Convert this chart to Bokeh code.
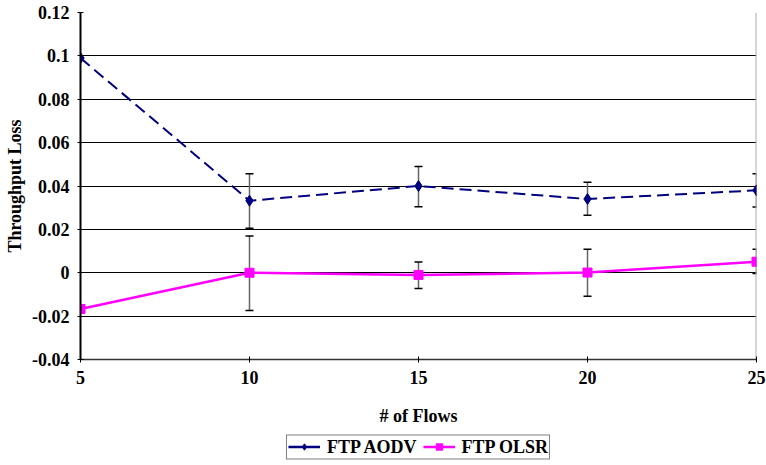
from bokeh.plotting import figure
from bokeh.models import (ColumnDataSource, Whisker, TeeHead, FixedTicker, CustomJSTickFormatter,
                          Legend, LegendItem, Range1d)
from bokeh.layouts import column
from bokeh.embed import file_html
from bokeh.resources import INLINE

flows = [5, 10, 15, 20, 25]
aodv = [0.099, 0.0332, 0.0400, 0.0340, 0.0380]
aodv_err_x = [10, 15, 20, 25]
aodv_upper = [0.0457, 0.0490, 0.0417, 0.0456]
aodv_lower = [0.0205, 0.0304, 0.0265, 0.0303]
olsr = [-0.0167, 0.0000, -0.0010, 0.0001, 0.0051]
olsr_err_x = [10, 15, 20, 25]
olsr_upper = [0.0170, 0.0049, 0.0108, 0.0108]
olsr_lower = [-0.0174, -0.0073, -0.0108, -0.0003]
y_ticks = [-0.04, -0.02, 0, 0.02, 0.04, 0.06, 0.08, 0.1, 0.12]
x_ticks = [5, 10, 15, 20, 25]
series_names = ["FTP AODV", "FTP OLSR"]

FONT = "Liberation Serif"
NAVY = "#000080"
MAGENTA = "#FF00FF"

p = figure(width=766, height=428, output_backend="svg", toolbar_location=None,
           x_range=Range1d(5, 25), y_range=Range1d(-0.04, 0.12),
           min_border_left=80, min_border_right=10, min_border_top=12, min_border_bottom=64)
p.outline_line_color = None
p.background_fill_color = "white"
p.border_fill_color = "white"

p.xaxis.ticker = FixedTicker(ticks=x_ticks)
p.yaxis.ticker = FixedTicker(ticks=y_ticks)
p.yaxis.formatter = CustomJSTickFormatter(code="return String(parseFloat(tick.toFixed(2)));")
for ax in (p.xaxis, p.yaxis):
    ax.major_label_text_font = FONT
    ax.major_label_text_font_style = "bold"
    ax.major_label_text_font_size = "18px"
    ax.major_label_text_color = "black"
    ax.axis_label_text_font = FONT
    ax.axis_label_text_font_style = "bold"
    ax.axis_label_text_font_size = "18px"
    ax.axis_label_text_color = "black"
    ax.minor_tick_line_color = None
    ax.major_tick_line_color = "black"
    ax.major_tick_in = 3
    ax.major_tick_out = 3
p.yaxis.axis_line_color = "black"
p.yaxis.axis_line_width = 2
p.xaxis.axis_line_color = "#333333"
p.xaxis.axis_line_width = 1.5
p.yaxis.axis_label = "Throughput Loss"
p.xaxis.axis_label = "# of Flows"
p.yaxis.major_label_standoff = 8
p.yaxis.axis_label_standoff = 4
p.xaxis.major_label_standoff = 8
p.xaxis.axis_label_standoff = 19

p.xgrid.grid_line_color = None
p.ygrid.ticker = FixedTicker(ticks=y_ticks[1:])
p.ygrid.grid_line_color = "black"
p.ygrid.grid_line_width = 1

# right border of the plot area
p.segment(x0=[x_ticks[-1]], y0=[y_ticks[0]], x1=[x_ticks[-1]], y1=[y_ticks[-1]],
          line_color="#b0b0b0", line_width=2)

# error bars
for ex, up, lo in ((aodv_err_x, aodv_upper, aodv_lower), (olsr_err_x, olsr_upper, olsr_lower)):
    src = ColumnDataSource(dict(x=ex, upper=up, lower=lo))
    w = Whisker(source=src, base="x", upper="upper", lower="lower", dimension="height",
                line_color="#666666", line_width=1.5,
                upper_head=TeeHead(size=8, line_color="black", line_width=1.5),
                lower_head=TeeHead(size=8, line_color="black", line_width=1.5))
    p.add_layout(w)

p.line(flows, aodv, line_color=NAVY, line_width=2, line_dash="12 6")
p.scatter(flows, aodv, marker="diamond", size=11, fill_color=NAVY, line_color=NAVY)
p.line(flows, olsr, line_color=MAGENTA, line_width=2.5)
p.scatter(flows, olsr, marker="square", size=9, fill_color=MAGENTA, line_color=MAGENTA)

# legend strip below the chart (proxy renderers use the data, outside this strip's ranges)
lf = figure(width=766, height=37, output_backend="svg", toolbar_location=None,
            x_axis_type=None, y_axis_type=None,
            x_range=Range1d(0, 1), y_range=Range1d(0, 1),
            min_border_left=0, min_border_right=0, min_border_top=0, min_border_bottom=0)
lf.grid.visible = False
lf.outline_line_color = None
lf.border_fill_color = "white"
lf.background_fill_color = "white"
la = lf.line(flows, aodv, line_color=NAVY, line_width=2.5)
ma = lf.scatter(flows, aodv, marker="diamond", size=9, fill_color=NAVY, line_color=NAVY)
lo_ = lf.line(flows, olsr, line_color=MAGENTA, line_width=2.5)
mo = lf.scatter(flows, olsr, marker="square", size=9, fill_color=MAGENTA, line_color=MAGENTA)

legend = Legend(items=[LegendItem(label=series_names[0], renderers=[la, ma]),
                       LegendItem(label=series_names[1], renderers=[lo_, mo])],
                orientation="horizontal", location="center",
                label_text_font=FONT, label_text_font_style="bold", label_text_font_size="18px",
                label_text_color="black", label_height=16, glyph_height=16, glyph_width=32,
                label_standoff=7, spacing=6, padding=1, margin=0,
                border_line_color="black", border_line_width=1.5,
                background_fill_color="white", background_fill_alpha=1)
lf.add_layout(legend, "center")

layout = column(p, lf, spacing=0)
open("out.html", "w").write(file_html(layout, INLINE))
